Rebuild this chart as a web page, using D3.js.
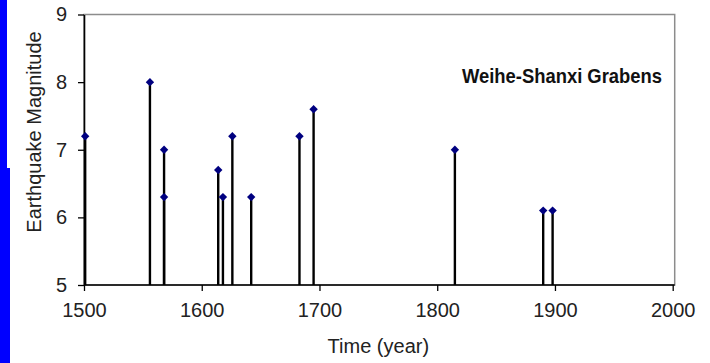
<!DOCTYPE html>
<html>
<head>
<meta charset="utf-8">
<script src="https://cdn.jsdelivr.net/npm/d3@7"></script>
<style>
  html, body { margin: 0; padding: 0; background: #fff; }
  svg { display: block; }
  text { font-family: "Liberation Sans", Arial, sans-serif; }
</style>
</head>
<body>
<svg id="chart" width="710" height="363"></svg>
<script>
// ---- data ----
const years      = [1501, 1556, 1568, 1568, 1614, 1618, 1626, 1642, 1683, 1695, 1815, 1890, 1898];
const magnitudes = [7.2,  8.0,  7.0,  6.3,  6.7,  6.3,  7.2,  6.3,  7.2,  7.6,  7.0,  6.1,  6.1];
const xTicks = [1500, 1600, 1700, 1800, 1900, 2000];
const yTicks = [5, 6, 7, 8, 9];
const chartTitle = "Weihe-Shanxi Grabens";
const xTitle = "Time (year)";
const yTitle = "Earthquake Magnitude";

// ---- layout ----
const plotLeft = 84, plotRight = 672.7, plotTop = 14.5, plotBottom = 285;
const svg = d3.select("#chart");

// slide decoration (blue bar on the left)
svg.append("rect").attr("x", 0).attr("y", 0).attr("width", 7).attr("height", 168).attr("fill", "#0000ff");
svg.append("rect").attr("x", 0).attr("y", 168).attr("width", 10).attr("height", 195).attr("fill", "#0000ff");

const x = d3.scaleLinear().domain([1500, 2000]).range([plotLeft, plotRight]);
const y = d3.scaleLinear().domain([5, 9]).range([plotBottom, plotTop]);

// plot area frame (gray)
svg.append("rect")
  .attr("x", plotLeft).attr("y", plotTop)
  .attr("width", plotRight + 2 - plotLeft).attr("height", plotBottom - plotTop)
  .attr("fill", "none").attr("stroke", "#8c8c8c").attr("stroke-width", 1.5);

// axes
const xAxis = svg.append("g").attr("transform", `translate(0,${plotBottom})`)
  .call(d3.axisBottom(x).tickValues(xTicks).tickFormat(d3.format("d")).tickSize(6).tickPadding(12).tickSizeOuter(0));
const yAxis = svg.append("g").attr("transform", `translate(${plotLeft},0)`)
  .call(d3.axisLeft(y).tickValues(yTicks).tickFormat(d3.format("d")).tickSize(6).tickPadding(11).tickSizeOuter(0));

[xAxis, yAxis].forEach(g => {
  g.select(".domain").attr("stroke", "#000").attr("stroke-width", 1.6);
  g.selectAll(".tick line").attr("stroke", "#000").attr("stroke-width", 1.3);
  g.selectAll(".tick text").attr("fill", "#222").style("font-size", "20px");
});
// extend bottom axis to frame edge
xAxis.select(".domain").attr("d", `M${plotLeft},0H${plotRight + 2}`);

const data = years.map((yr, i) => ({ year: yr, mag: magnitudes[i] }));

// stems
svg.append("g").selectAll("line").data(data).join("line")
  .attr("x1", d => x(d.year)).attr("x2", d => x(d.year))
  .attr("y1", y(5)).attr("y2", d => y(d.mag))
  .attr("stroke", "#000").attr("stroke-width", 2.4);

// markers (navy diamonds)
svg.append("g").selectAll("path").data(data).join("path")
  .attr("transform", d => `translate(${x(d.year)},${y(d.mag)})`)
  .attr("d", "M0,-4.2L4.2,0L0,4.2L-4.2,0Z")
  .attr("fill", "#000080");

// chart title
svg.append("text")
  .attr("x", 662).attr("y", 83)
  .attr("text-anchor", "end")
  .attr("textLength", 200).attr("lengthAdjust", "spacingAndGlyphs")
  .style("font-size", "21px").style("font-weight", "bold")
  .attr("fill", "#111")
  .text(chartTitle);

// axis titles
svg.append("text")
  .attr("x", (plotLeft + plotRight) / 2).attr("y", 353)
  .attr("text-anchor", "middle")
  .style("font-size", "20px").attr("fill", "#222")
  .text(xTitle);

svg.append("text")
  .attr("transform", "translate(41,132) rotate(-90)")
  .attr("text-anchor", "middle")
  .style("font-size", "20px").attr("fill", "#222")
  .text(yTitle);
</script>
</body>
</html>
